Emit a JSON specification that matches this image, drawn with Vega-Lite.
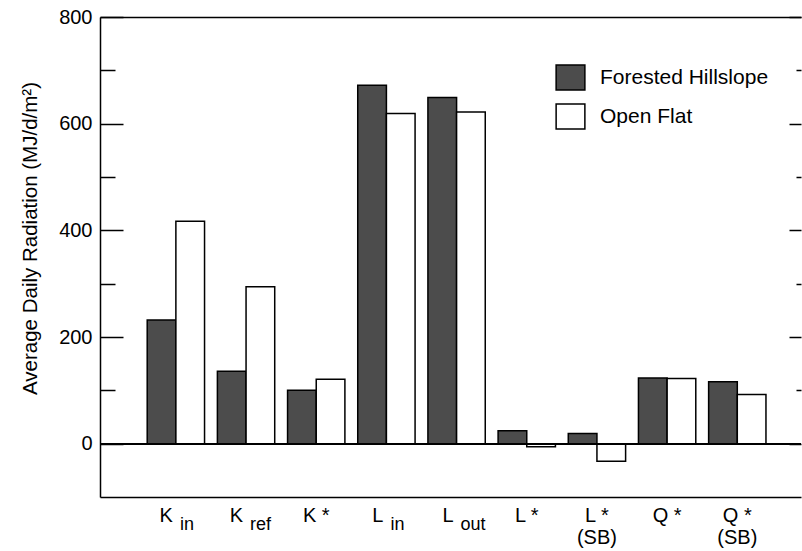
{
  "$schema": "https://vega.github.io/schema/vega-lite/v6.json",
  "width": 701,
  "height": 480,
  "autosize": "none",
  "padding": {"left": 100, "top": 17, "right": 1, "bottom": 54},
  "background": "white",
  "config": {
    "font": "Liberation Sans",
    "view": {"stroke": null},
    "axis": {"domainColor": "black", "domainWidth": 1.5, "tickColor": "black", "tickWidth": 1.5, "labelColor": "black", "titleColor": "black", "grid": false}
  },
  "datasets": {
    "bars": [
      {"cat": "Kin", "series": "Forested Hillslope", "value": 232},
      {"cat": "Kin", "series": "Open Flat", "value": 417},
      {"cat": "Kref", "series": "Forested Hillslope", "value": 136},
      {"cat": "Kref", "series": "Open Flat", "value": 294},
      {"cat": "K*", "series": "Forested Hillslope", "value": 100},
      {"cat": "K*", "series": "Open Flat", "value": 121},
      {"cat": "Lin", "series": "Forested Hillslope", "value": 672},
      {"cat": "Lin", "series": "Open Flat", "value": 619},
      {"cat": "Lout", "series": "Forested Hillslope", "value": 649},
      {"cat": "Lout", "series": "Open Flat", "value": 622},
      {"cat": "L*", "series": "Forested Hillslope", "value": 24},
      {"cat": "L*", "series": "Open Flat", "value": -6},
      {"cat": "L*(SB)", "series": "Forested Hillslope", "value": 19},
      {"cat": "L*(SB)", "series": "Open Flat", "value": -33},
      {"cat": "Q*", "series": "Forested Hillslope", "value": 123},
      {"cat": "Q*", "series": "Open Flat", "value": 122},
      {"cat": "Q*(SB)", "series": "Forested Hillslope", "value": 116},
      {"cat": "Q*(SB)", "series": "Open Flat", "value": 92}
    ],
    "labels": [
      {"cat": "Kin", "main": "K", "sub": "in", "note": ""},
      {"cat": "Kref", "main": "K", "sub": "ref", "note": ""},
      {"cat": "K*", "main": "K *", "sub": "", "note": ""},
      {"cat": "Lin", "main": "L", "sub": "in", "note": ""},
      {"cat": "Lout", "main": "L", "sub": "out", "note": ""},
      {"cat": "L*", "main": "L *", "sub": "", "note": ""},
      {"cat": "L*(SB)", "main": "L *", "sub": "", "note": "(SB)"},
      {"cat": "Q*", "main": "Q *", "sub": "", "note": ""},
      {"cat": "Q*(SB)", "main": "Q *", "sub": "", "note": "(SB)"}
    ]
  },
  "layer": [
    {
      "data": {"name": "bars"},
      "mark": {"type": "bar", "stroke": "black", "strokeWidth": 1.5},
      "encoding": {
        "x": {
          "field": "cat", "type": "nominal", "sort": null,
          "scale": {"domain": ["Kin", "Kref", "K*", "Lin", "Lout", "L*", "L*(SB)", "Q*", "Q*(SB)"], "paddingInner": 0.183, "paddingOuter": 0.586, "align": 0.574},
          "axis": {"orient": "bottom", "labels": false, "ticks": false, "title": null}
        },
        "xOffset": {"field": "series", "type": "nominal", "sort": ["Forested Hillslope", "Open Flat"]},
        "y": {
          "field": "value", "type": "quantitative",
          "scale": {"domain": [-100, 800], "nice": false, "zero": false},
          "axis": {
            "orient": "left",
            "values": [0, 200, 400, 600, 800],
            "ticks": false,
            "labelPadding": 8,
            "labelFontSize": 20,
            "title": "Average Daily Radiation (MJ/d/m²)",
            "titleFontSize": 20.5,
            "titleFontWeight": "normal",
            "titleX": -70,
            "titleY": 221,
            "titleAngle": -90,
            "titleAlign": "center",
            "titleBaseline": "middle"
          }
        },
        "fill": {
          "field": "series", "type": "nominal",
          "scale": {"domain": ["Forested Hillslope", "Open Flat"], "range": ["#4c4c4c", "#ffffff"]},
          "legend": {
            "title": null,
            "orient": "none",
            "legendX": 457,
            "legendY": 47,
            "padding": 0,
            "symbolType": "M-1.15,-1H1.15V1H-1.15Z",
            "symbolSize": 625,
            "symbolStrokeColor": "black",
            "symbolStrokeWidth": 1.5,
            "symbolOpacity": 1,
            "labelFontSize": 21,
            "labelColor": "black",
            "labelOffset": 16,
            "labelLimit": 300,
            "rowPadding": 8
          }
        }
      }
    },
    {
      "data": {"name": "bars"},
      "mark": {"type": "rule", "color": "black", "strokeWidth": 1.5},
      "encoding": {
        "y": {
          "datum": 0, "type": "quantitative",
          "axis": {
            "orient": "right",
            "values": [0, 100, 200, 300, 400, 500, 600, 700, 800],
            "labels": false,
            "domain": false,
            "ticks": false,
            "grid": true,
            "gridColor": "black",
            "gridOpacity": 1,
            "gridWidth": 1.5,
            "gridDash": {"condition": {"test": "datum.value % 200 === 0", "value": [12, 666, 23, 100]}, "value": [5, 681, 15, 100]},
            "title": null
          }
        }
      }
    },
    {
      "data": {"name": "labels"},
      "transform": [{"filter": "datum.sub != ''"}],
      "mark": {"type": "text", "align": "right", "baseline": "alphabetic", "dx": -3, "dy": 25, "fontSize": 20, "color": "black"},
      "encoding": {
        "x": {"field": "cat", "type": "nominal", "sort": null, "axis": {"orient": "top", "labels": false, "ticks": false, "title": null}},
        "y": {"datum": -100, "type": "quantitative", "axis": null},
        "text": {"field": "main"}
      }
    },
    {
      "data": {"name": "labels"},
      "transform": [{"filter": "datum.sub != ''"}],
      "mark": {"type": "text", "align": "left", "baseline": "alphabetic", "dx": 4, "dy": 33, "fontSize": 18, "color": "black"},
      "encoding": {
        "x": {"field": "cat", "type": "nominal", "sort": null, "axis": null},
        "y": {"datum": -100, "type": "quantitative", "axis": null},
        "text": {"field": "sub"}
      }
    },
    {
      "data": {"name": "labels"},
      "transform": [{"filter": "datum.sub == ''"}],
      "mark": {"type": "text", "align": "center", "baseline": "alphabetic", "dy": 25, "fontSize": 20, "color": "black"},
      "encoding": {
        "x": {"field": "cat", "type": "nominal", "sort": null, "axis": null},
        "y": {"datum": -100, "type": "quantitative", "axis": null},
        "text": {"field": "main"}
      }
    },
    {
      "data": {"name": "labels"},
      "transform": [{"filter": "datum.note != ''"}],
      "mark": {"type": "text", "align": "center", "baseline": "alphabetic", "dy": 47, "fontSize": 20, "color": "black"},
      "encoding": {
        "x": {"field": "cat", "type": "nominal", "sort": null, "axis": null},
        "y": {"datum": -100, "type": "quantitative", "axis": null},
        "text": {"field": "note"}
      }
    }
  ]
}
